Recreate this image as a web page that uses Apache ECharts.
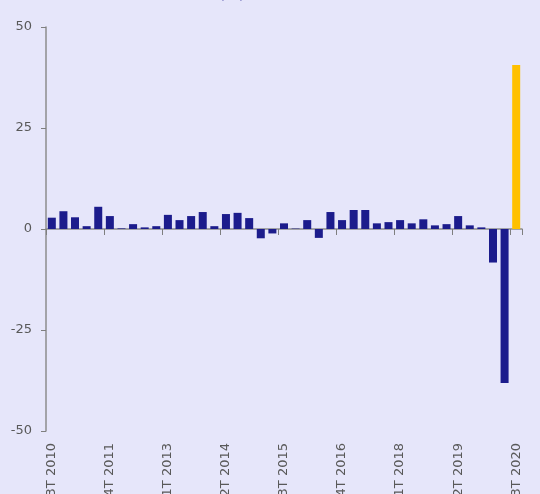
<!DOCTYPE html>
<html>
<head>
<meta charset="utf-8">
<script src="https://cdn.jsdelivr.net/npm/echarts@6/dist/echarts.min.js"></script>
<style>
html,body{margin:0;padding:0;background:#E6E6FA;}
#c{width:540px;height:494px;}
</style>
</head>
<body>
<div id="c"></div>
<script>
var categories = ["3T 2010","4T 2010","1T 2011","2T 2011","3T 2011","4T 2011","1T 2012","2T 2012","3T 2012","4T 2012",
"1T 2013","2T 2013","3T 2013","4T 2013","1T 2014","2T 2014","3T 2014","4T 2014","1T 2015","2T 2015",
"3T 2015","4T 2015","1T 2016","2T 2016","3T 2016","4T 2016","1T 2017","2T 2017","3T 2017","4T 2017",
"1T 2018","2T 2018","3T 2018","4T 2018","1T 2019","2T 2019","3T 2019","4T 2019","1T 2020","2T 2020","3T 2020"];
var values = [2.8,4.4,2.9,0.7,5.5,3.2,0.15,1.2,0.4,0.7,
3.5,2.2,3.2,4.2,0.7,3.7,4.0,2.7,-2.3,-1.1,
1.4,0.1,2.2,-2.2,4.2,2.2,4.7,4.7,1.4,1.7,
2.2,1.4,2.4,0.9,1.2,3.2,0.9,0.4,-8.3,-38.1,40.6];
var yTicks = [-50,-25,0,25,50];

var chart = echarts.init(document.getElementById('c'), null, {renderer:'canvas'});
var lastIdx = values.length - 1;
var option = {
  backgroundColor: '#E6E6FA',
  animation: false,
  title: {
    text: '(%)',
    left: 214, top: -18,
    textStyle: {color: '#1c1c8c', fontSize: 15, fontWeight: 'normal', fontFamily: 'DejaVu Sans'}
  },
  grid: {left: 46, right: 18, top: 27, bottom: 63, containLabel: false, outerBoundsMode: 'none'},
  xAxis: [{
    type: 'category',
    data: categories,
    boundaryGap: true,
    axisLine: {onZero: true, lineStyle: {color: '#8c8c8c', width: 1.5}},
    axisTick: {show: true, interval: 4, length: 6, lineStyle: {color: '#7f7f7f'}},
    axisLabel: {show: false},
    splitLine: {show: false}
  }, {
    type: 'category',
    data: categories,
    position: 'bottom',
    boundaryGap: true,
    axisLine: {show: false, onZero: false},
    axisTick: {show: false},
    axisLabel: {show: true, interval: 4, rotate: 90, margin: 12, color: '#595959', fontSize: 13, fontFamily: 'DejaVu Sans'},
    splitLine: {show: false}
  }],
  yAxis: {
    type: 'value',
    min: yTicks[0], max: yTicks[yTicks.length-1], interval: 25,
    axisLine: {show: true, lineStyle: {color: '#8c8c8c', width: 1.5}},
    axisTick: {show: true, length: 5, lineStyle: {color: '#7f7f7f'}},
    axisLabel: {color: '#595959', fontSize: 13, margin: 14, fontFamily: 'DejaVu Sans'},
    splitLine: {show: false}
  },
  series: [{
    type: 'bar',
    xAxisIndex: 0,
    barCategoryGap: '31%',
    data: values.map(function(v, i){
      return {value: v, itemStyle: {color: i === lastIdx ? '#FFC000' : '#1c1c8c'}};
    })
  }]
};
chart.setOption(option);
</script>
</body>
</html>
